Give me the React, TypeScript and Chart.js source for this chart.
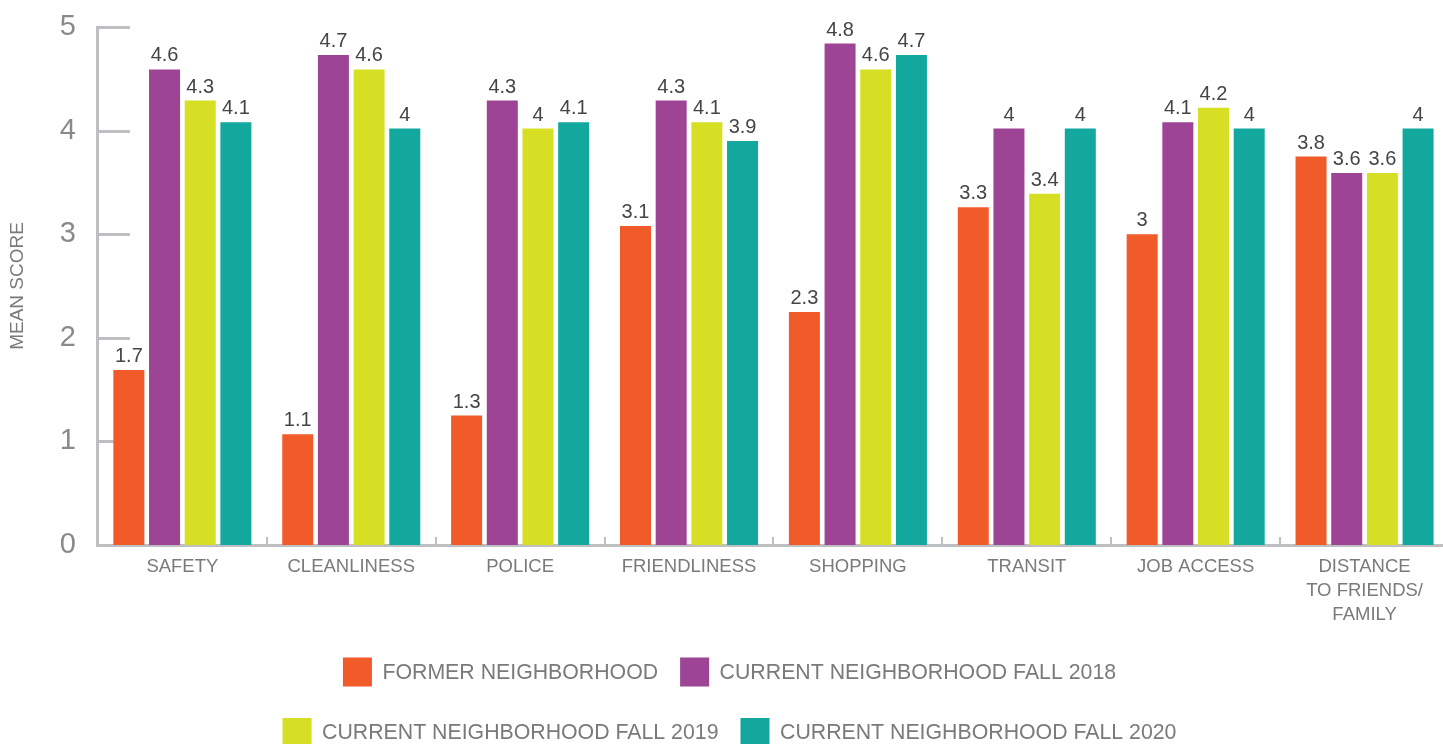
import React, { useEffect, useRef } from "react";
import { Chart, registerables } from "chart.js";

Chart.register(...registerables);

const categories: (string | string[])[] = [
  "SAFETY",
  "CLEANLINESS",
  "POLICE",
  "FRIENDLINESS",
  "SHOPPING",
  "TRANSIT",
  "JOB ACCESS",
  ["DISTANCE", "TO FRIENDS/", "FAMILY"],
];

const seriesNames = [
  "FORMER NEIGHBORHOOD",
  "CURRENT NEIGHBORHOOD FALL 2018",
  "CURRENT NEIGHBORHOOD FALL 2019",
  "CURRENT NEIGHBORHOOD FALL 2020",
];

const formerNeighborhood = [1.69, 1.07, 1.25, 3.08, 2.25, 3.26, 3.0, 3.75];
const currentFall2018 = [4.59, 4.73, 4.29, 4.29, 4.84, 4.02, 4.08, 3.59];
const currentFall2019 = [4.29, 4.59, 4.02, 4.08, 4.59, 3.39, 4.22, 3.59];
const currentFall2020 = [4.08, 4.02, 4.08, 3.9, 4.73, 4.02, 4.02, 4.02];

const yMin = 0;
const yMax = 5;
const yStep = 1;

const seriesColors = ["#F15A29", "#9D4594", "#D6DF23", "#12A89D"];

const FONT = "'Liberation Sans', Arial, Helvetica, sans-serif";
const AXIS_COLOR = "#BEBFC3";
const LABEL_GRAY = "#7A7A7A";
const TICK_GRAY = "#8A8A8A";
const VALUE_COLOR = "#454545";

const fmt = (v: number) => String(Number(v.toFixed(1)));

const axisMarks = {
  id: "axisMarks",
  beforeDatasetsDraw(chart: any) {
    const { ctx, scales, chartArea } = chart;
    const x = scales.x;
    const y = scales.y;
    ctx.save();
    ctx.strokeStyle = AXIS_COLOR;
    ctx.lineWidth = 3;
    y.ticks.forEach((t: any) => {
      const py = Math.round(y.getPixelForValue(t.value)) + 0.5;
      ctx.beginPath();
      ctx.moveTo(chartArea.left, py);
      ctx.lineTo(chartArea.left + 32, py);
      ctx.stroke();
    });
    ctx.lineWidth = 2;
    for (let i = 1; i < categories.length; i++) {
      const px = Math.round((x.getPixelForValue(i - 1) + x.getPixelForValue(i)) / 2);
      ctx.beginPath();
      ctx.moveTo(px, chartArea.bottom - 8);
      ctx.lineTo(px, chartArea.bottom);
      ctx.stroke();
    }
    ctx.restore();
  },
};

const valueLabels = {
  id: "valueLabels",
  afterDatasetsDraw(chart: any) {
    const { ctx } = chart;
    ctx.save();
    ctx.font = `20px ${FONT}`;
    ctx.fillStyle = VALUE_COLOR;
    ctx.textAlign = "center";
    ctx.textBaseline = "alphabetic";
    chart.data.datasets.forEach((ds: any, i: number) => {
      const meta = chart.getDatasetMeta(i);
      meta.data.forEach((bar: any, j: number) => {
        ctx.fillText(fmt(ds.data[j]), bar.x, bar.y - 8);
      });
    });
    ctx.restore();
  },
};

const customLegend = {
  id: "customLegend",
  afterDraw(chart: any) {
    const { ctx } = chart;
    const rows = [
      { items: [0, 1], cx: 729.5, cy: 672 },
      { items: [2, 3], cx: 729.5, cy: 732.5 },
    ];
    const box = 29;
    const gap = 10.5;
    const itemGap = 22;
    ctx.save();
    ctx.font = `21.3px ${FONT}`;
    ctx.textBaseline = "middle";
    ctx.textAlign = "left";
    rows.forEach((row) => {
      const widths = row.items.map(
        (i) => box + gap + ctx.measureText(chart.data.datasets[i].label).width
      );
      const total = widths.reduce((a, b) => a + b, 0) + itemGap * (widths.length - 1);
      let xPos = row.cx - total / 2;
      row.items.forEach((i, k) => {
        const ds = chart.data.datasets[i];
        ctx.fillStyle = ds.backgroundColor;
        ctx.fillRect(xPos, row.cy - box / 2, box, box);
        ctx.fillStyle = LABEL_GRAY;
        ctx.fillText(ds.label, xPos + box + gap, row.cy + 1);
        xPos += widths[k] + itemGap;
      });
    });
    ctx.restore();
  },
};

export default function App() {
  const canvasRef = useRef<HTMLCanvasElement | null>(null);

  useEffect(() => {
    if (!canvasRef.current) return;
    const seriesData = [formerNeighborhood, currentFall2018, currentFall2019, currentFall2020];
    const chart = new Chart(canvasRef.current, {
      type: "bar",
      data: {
        labels: categories as any,
        datasets: seriesNames.map((name, i) => ({
          label: name,
          data: seriesData[i],
          backgroundColor: seriesColors[i],
          borderWidth: 0,
          barPercentage: 0.869,
          categoryPercentage: 0.845,
        })),
      },
      options: {
        animation: false,
        responsive: true,
        maintainAspectRatio: false,
        layout: { padding: { left: 0, right: 1, top: 27, bottom: 115 } },
        plugins: {
          legend: { display: false },
          tooltip: { enabled: false },
          title: { display: false },
        },
        scales: {
          x: {
            grid: { display: false },
            border: { display: true, color: AXIS_COLOR, width: 3 },
            ticks: {
              color: LABEL_GRAY,
              font: { family: FONT, size: 18.5, lineHeight: 24 / 18.5 },
              padding: 2,
              maxRotation: 0,
              autoSkip: false,
            },
          },
          y: {
            min: yMin,
            max: yMax,
            grid: { display: false },
            border: { display: true, color: AXIS_COLOR, width: 3 },
            ticks: {
              stepSize: yStep,
              color: TICK_GRAY,
              font: { family: FONT, size: 29, lineHeight: 0.8 },
              padding: 14,
            },
            title: {
              display: true,
              text: "MEAN SCORE",
              color: LABEL_GRAY,
              font: { family: FONT, size: 19, lineHeight: 1.2 },
              padding: { top: 6, bottom: 17 },
            },
          },
        },
      },
      plugins: [axisMarks, valueLabels, customLegend],
    });
    return () => chart.destroy();
  }, []);

  return (
    <div
      style={{
        position: "fixed",
        left: 0,
        top: 0,
        width: "100vw",
        height: "100vh",
        overflow: "hidden",
        background: "#fff",
      }}
    >
      <div style={{ position: "absolute", left: 0, top: 0, width: 1450, height: 744 }}>
        <canvas ref={canvasRef} />
      </div>
    </div>
  );
}
